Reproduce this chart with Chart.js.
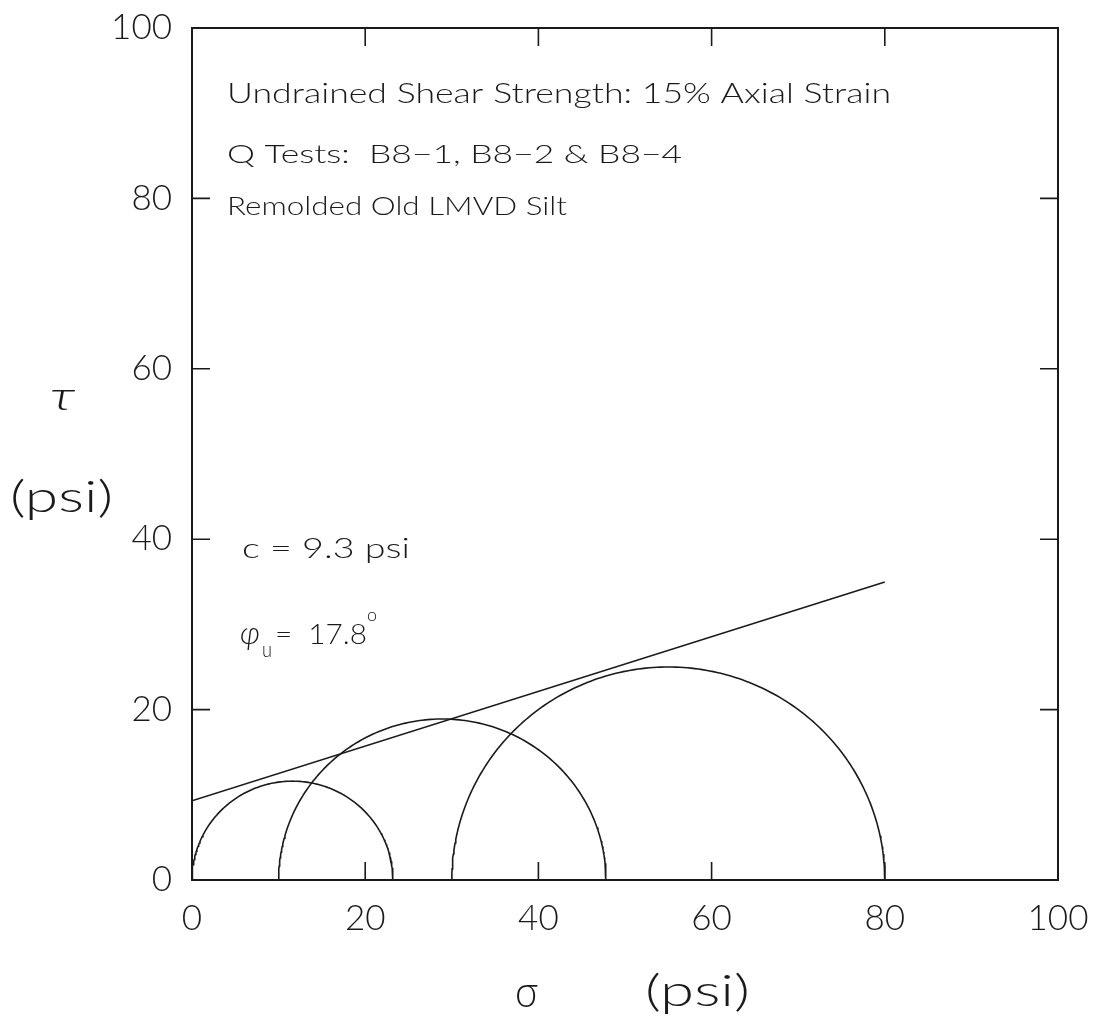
<!DOCTYPE html>
<html>
<head>
<meta charset="utf-8">
<title>Mohr circles - Q tests</title>
<script src="https://cdn.jsdelivr.net/npm/chart.js@4/dist/chart.umd.min.js"></script>
<style>
  html, body { margin: 0; padding: 0; background: #fff; }
  canvas { display: block; }
</style>
</head>
<body>
<canvas id="mohr" width="1099" height="1017"></canvas>
<script>
  // test results (psi): minor / major principal stress at 15% axial strain
  const sigma3 = [0, 10, 30];
  const sigma1 = [23.2, 47.8, 80];

  // strength envelope
  const cohesion = 9.3;     // psi
  const phiU = 17.8;        // degrees
  const envelopeEnd = 80;   // psi

  const axisTicks = [0, 20, 40, 60, 80, 100];

  const INK = '#1a1a1a';
  const FONT = 'Lato, "DejaVu Sans", sans-serif';

  // half circle outline for each test
  function halfCircle(s3, s1) {
    const c = (s1 + s3) / 2, r = (s1 - s3) / 2;
    const pts = [];
    for (let i = 0; i <= 180; i++) {
      const a = Math.PI - i * Math.PI / 180;
      pts.push({ x: c + r * Math.cos(a), y: r * Math.sin(a) });
    }
    return pts;
  }

  const tanPhi = Math.tan(phiU * Math.PI / 180);
  const envelope = [
    { x: 0, y: cohesion },
    { x: envelopeEnd, y: cohesion + envelopeEnd * tanPhi }
  ];

  const lineStyle = {
    showLine: true,
    borderColor: INK,
    borderWidth: 1.6,
    pointRadius: 0,
    fill: false,
    tension: 0
  };

  const datasets = [{ label: 'envelope', data: envelope, ...lineStyle }];
  sigma3.forEach((s3, i) => {
    datasets.push({ label: 'test ' + (i + 1), data: halfCircle(s3, sigma1[i]), ...lineStyle });
  });

  // text at a fixed height, squeezed or stretched to a given width
  function fitText(ctx, text, x, y, size, width, style) {
    ctx.save();
    ctx.font = (style || '300') + ' ' + size + 'px ' + FONT;
    const w = ctx.measureText(text).width;
    ctx.translate(x, y);
    ctx.scale(width / w, 1);
    ctx.fillText(text, 0, 0);
    ctx.restore();
  }

  // keep tick labels from pushing the plot box around
  function noOverflow(s) {
    s.paddingTop = 0; s.paddingBottom = 0;
    s.paddingLeft = 0; s.paddingRight = 0;
  }

  const framePlugin = {
    id: 'frame',
    afterDraw(chart) {
      const ctx = chart.ctx;
      const a = chart.chartArea;
      const xs = chart.scales.x, ys = chart.scales.y;
      const tl = 18;
      ctx.save();
      ctx.strokeStyle = INK;
      ctx.lineWidth = 2;
      ctx.strokeRect(a.left, a.top, a.right - a.left, a.bottom - a.top);

      // inward ticks on all four sides
      ctx.lineWidth = 1.6;
      ctx.beginPath();
      axisTicks.slice(1, -1).forEach(v => {
        const px = xs.getPixelForValue(v);
        const py = ys.getPixelForValue(v);
        ctx.moveTo(px, a.bottom); ctx.lineTo(px, a.bottom - tl);
        ctx.moveTo(px, a.top); ctx.lineTo(px, a.top + tl);
        ctx.moveTo(a.left, py); ctx.lineTo(a.left + tl, py);
        ctx.moveTo(a.right, py); ctx.lineTo(a.right - tl, py);
      });
      ctx.stroke();

      ctx.fillStyle = INK;
      ctx.textBaseline = 'alphabetic';
      ctx.textAlign = 'left';

      // notes
      fitText(ctx, 'Undrained Shear Strength: 15% Axial Strain', 227, 103, 28, 664);
      fitText(ctx, 'Q Tests:  B8\u22121, B8\u22122 & B8\u22124', 227, 163, 26, 455);
      fitText(ctx, 'Remolded Old LMVD Silt', 227, 215, 26, 340);
      fitText(ctx, 'c = 9.3 psi', 242, 558, 27, 168);

      fitText(ctx, '\u03c6', 240, 644, 32, 20, 'italic 300');
      fitText(ctx, 'u', 262, 657, 22, 10);
      fitText(ctx, '=  17.8', 275, 644, 28, 92);
      fitText(ctx, 'o', 367, 621, 18, 10);

      // axis titles
      fitText(ctx, '\u03c4', 50, 410, 40, 25, 'italic 300');
      fitText(ctx, '(psi)', 10, 512, 44, 103);
      fitText(ctx, '\u03c3', 515, 1007, 46, 23);
      fitText(ctx, '(psi)', 645, 1006, 44, 105);
      ctx.restore();
    }
  };

  const tickFont = { family: FONT, size: 35, weight: '300' };

  new Chart(document.getElementById('mohr'), {
    type: 'scatter',
    data: { datasets },
    options: {
      responsive: false,
      animation: false,
      devicePixelRatio: 1,
      layout: { padding: { top: 28, right: 41, left: 0, bottom: 0 } },
      plugins: { legend: { display: false }, tooltip: { enabled: false } },
      scales: {
        x: {
          type: 'linear', min: 0, max: 100,
          afterBuildTicks: s => { s.ticks = axisTicks.map(v => ({ value: v })); },
          afterFit: s => { s.height = 137; noOverflow(s); },
          grid: { display: false, drawTicks: false },
          border: { display: false },
          ticks: { font: tickFont, color: INK, padding: 18, maxRotation: 0 }
        },
        y: {
          type: 'linear', min: 0, max: 100,
          afterBuildTicks: s => { s.ticks = axisTicks.map(v => ({ value: v })); },
          afterFit: s => { s.width = 192; noOverflow(s); },
          grid: { display: false, drawTicks: false },
          border: { display: false },
          ticks: { font: tickFont, color: INK, padding: 20 }
        }
      }
    },
    plugins: [framePlugin]
  });
</script>
</body>
</html>
